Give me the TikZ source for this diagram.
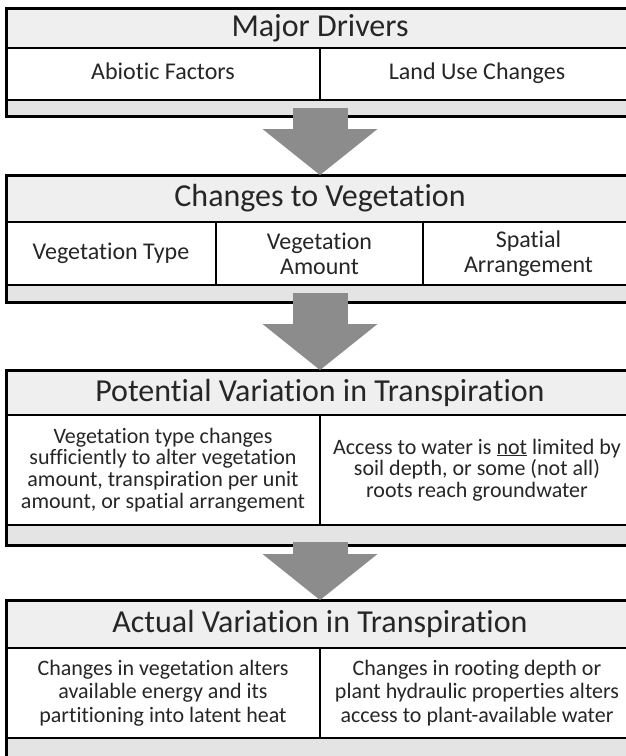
\documentclass[tikz,border=0pt]{standalone}
\usepackage{fontspec}
\setmainfont{Carlito}[Ligatures=CommonOff]
\usetikzlibrary{arrows.meta}
\usetikzlibrary{positioning}

\definecolor{titlegray}{HTML}{EFEFEF}
\definecolor{stripgray}{HTML}{E4E4E4}
\definecolor{arrowgray}{HTML}{8C8C8C}
\definecolor{textgray}{HTML}{262626}

\begin{document}
\begin{tikzpicture}[
  x = 1pt, y = -1pt,
  every node/.style = {inner sep=0pt, outer sep=0pt, anchor=north west, text=textgray},
  titlebox/.style = {draw, line width=2pt, fill=titlegray, minimum width=628pt,
    font=\fontsize{32}{36}\selectfont},
  cellbox/.style = {draw, line width=2pt, fill=white, align=center,
    font=\fontsize{24}{25}\selectfont},
  smallcell/.style = {cellbox, font=\fontsize{22}{21.7}\selectfont},
  stripbox/.style = {draw, line width=2pt, fill=stripgray, minimum width=628pt},
  outer/.style = {draw, line width=3pt},
  bigarrow/.style = {draw=arrowgray, line width=55pt,
    -{Triangle[width=115pt,length=46pt,line width=0pt]}}
  ]
  \clip (0,0) rectangle (626,756);

  % box 1
  \node[titlebox, minimum height=40pt] (@t1) at (6,8) {Major Drivers};
  \node[cellbox, minimum width=314pt, minimum height=52pt] (@c11) at (@t1.south west) {Abiotic Factors\strut};
  \node[cellbox, minimum width=314pt, minimum height=52pt] (@c12) at (@c11.north east) {Land Use Changes\strut};
  \node[stripbox, minimum height=16pt] (@s1) at (@c11.south west) {};
  \draw[outer] (@t1.north west) rectangle (@s1.south east);

  % box 2
  \node[titlebox, minimum height=47pt] (@t2) at (6,175) {Changes to Vegetation};
  \node[cellbox, minimum width=210pt, minimum height=63pt] (@c21) at (@t2.south west) {Vegetation Type};
  \node[cellbox, minimum width=207pt, minimum height=63pt] (@c22) at (@c21.north east) {Vegetation\\Amount};
  \node[cellbox, minimum width=211pt, minimum height=63pt] (@c23) at (@c22.north east) {Spatial\\Arrangement};
  \node[stripbox, minimum height=17pt] (@s2) at (@c21.south west) {};
  \draw[outer] (@t2.north west) rectangle (@s2.south east);

  % box 3
  \node[titlebox, minimum height=45pt] (@t3) at (6,370) {Potential Variation in Transpiration};
  \node[smallcell, minimum width=314pt, minimum height=110pt] (@c31) at (@t3.south west)
    {Vegetation type changes\\sufficiently to alter vegetation\\amount, transpiration per unit\\amount, or spatial arrangement};
  \node[smallcell, minimum width=314pt, minimum height=110pt] (@c32) at (@c31.north east)
    {Access to water is \underline{not} limited by\\soil depth, or some (not all)\\roots reach groundwater};
  \node[stripbox, minimum height=20pt] (@s3) at (@c31.south west) {};
  \draw[outer] (@t3.north west) rectangle (@s3.south east);

  % box 4
  \node[titlebox, minimum height=48pt] (@t4) at (6,600) {Actual Variation in Transpiration};
  \node[smallcell, minimum width=314pt, minimum height=90pt, font=\fontsize{22}{23.5}\selectfont] (@c41) at (@t4.south west)
    {Changes in vegetation alters\\available energy and its\\partitioning into latent heat};
  \node[smallcell, minimum width=314pt, minimum height=90pt, font=\fontsize{22}{23.5}\selectfont] (@c42) at (@c41.north east)
    {Changes in rooting depth or\\plant hydraulic properties alters\\access to plant-available water};
  \node[stripbox, minimum height=25pt] (@s4) at (@c41.south west) {};
  \draw[outer] (@t4.north west) rectangle (@s4.south east);

  % arrows
  \draw[bigarrow] ([yshift=8pt]@s1.south) -- (@t2.north);
  \draw[bigarrow] ([yshift=9pt]@s2.south) -- (@t3.north);
  \draw[bigarrow] ([yshift=3pt]@s3.south) -- (@t4.north);
\end{tikzpicture}
\end{document}
